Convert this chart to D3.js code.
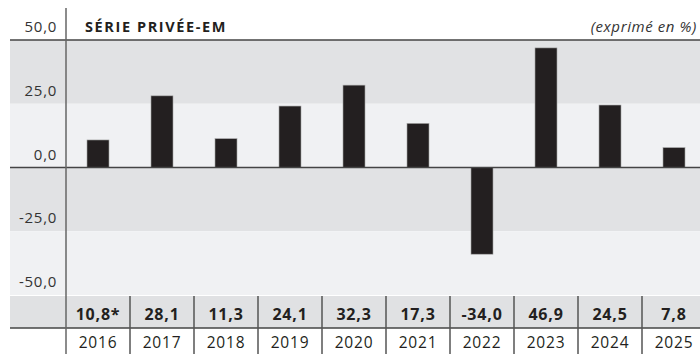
<!DOCTYPE html>
<html>
<head>
<meta charset="utf-8">
<script src="https://cdn.jsdelivr.net/npm/d3@7"></script>
<style>
  html, body { margin: 0; padding: 0; background: #fff; }
  svg { display: block; font-family: "Open Sans", "Noto Sans", sans-serif; }
</style>
</head>
<body>
<svg id="chart" width="700" height="354"></svg>
<script>
// Annual performance, private series (EM)
const years = ["2016", "2017", "2018", "2019", "2020", "2021", "2022", "2023", "2024", "2025"];
const returns = [10.8, 28.1, 11.3, 24.1, 32.3, 17.3, -34.0, 46.9, 24.5, 7.8];
const notes = ["*", "", "", "", "", "", "", "", "", ""];
const yTicks = [50, 25, 0, -25, -50];
const title = "SÉRIE PRIVÉE-EM";
const unitNote = "(exprimé en %)";

const W = 700, H = 354;
const plotLeft = 66, plotTop = 40, plotBottom = 295;
const rowTop = 296, rowMid = 328;

const svg = d3.select("#chart");
const fmt = v => d3.format(".1f")(v).replace(".", ",").replace("−", "-");

const y = d3.scaleLinear().domain([-50, 50]).range([plotBottom, plotTop]);
const x = d3.scaleBand().domain(years).range([plotLeft, plotLeft + 64 * years.length])
  .paddingInner(0.656).paddingOuter(0.328);
const gap = (x.step() - x.bandwidth()) / 2;

// alternating horizontal bands
const bands = d3.pairs(yTicks);
svg.append("g").selectAll("rect").data(bands).join("rect")
  .attr("x", 10).attr("width", W - 10)
  .attr("y", d => y(d[0]))
  .attr("height", d => y(d[1]) - y(d[0]))
  .attr("fill", (d, i) => i % 2 === 0 ? "#e1e2e4" : "#f0f1f3");

// value row background
svg.append("rect").attr("x", 10).attr("y", rowTop).attr("width", W - 10)
  .attr("height", rowMid - rowTop).attr("fill", "#e0e1e3");

// bars
svg.append("g").selectAll("rect").data(returns).join("rect")
  .attr("x", (d, i) => x(years[i]))
  .attr("width", x.bandwidth())
  .attr("y", d => y(Math.max(0, d)))
  .attr("height", d => Math.abs(y(d) - y(0)))
  .attr("fill", "#231f20")
  .attr("stroke", "#a8a8a8").attr("stroke-width", 0.6);

// top, zero and table rules
[y(50), y(0), rowMid].forEach(yy => {
  svg.append("line").attr("x1", 10).attr("x2", W).attr("y1", yy).attr("y2", yy)
    .attr("stroke", "#444").attr("stroke-width", 1.5);
});

// vertical axis line
svg.append("line").attr("x1", plotLeft).attr("x2", plotLeft).attr("y1", 8).attr("y2", H)
  .attr("stroke", "#666").attr("stroke-width", 1.5);

// table column separators
svg.append("g").selectAll("line").data(years.slice(1)).join("line")
  .attr("x1", d => x(d) - gap)
  .attr("x2", d => x(d) - gap)
  .attr("y1", rowTop).attr("y2", H)
  .attr("stroke", "#555").attr("stroke-width", 1.5);

// y tick labels
svg.append("g").selectAll("text").data(yTicks).join("text")
  .attr("x", 57).attr("y", d => y(d) - 8)
  .attr("text-anchor", "end")
  .attr("font-size", 15).attr("letter-spacing", 0.7)
  .attr("fill", "#333")
  .text(d => fmt(d));

// value labels
svg.append("g").selectAll("text").data(returns).join("text")
  .attr("x", (d, i) => x(years[i]) + x.bandwidth() / 2)
  .attr("y", 320)
  .attr("text-anchor", "middle")
  .attr("font-size", 16).attr("font-weight", "bold").attr("letter-spacing", 0.8)
  .attr("fill", "#231f20")
  .text((d, i) => fmt(d) + notes[i]);

// year labels
svg.append("g").selectAll("text").data(years).join("text")
  .attr("x", d => x(d) + x.bandwidth() / 2)
  .attr("y", 348)
  .attr("text-anchor", "middle")
  .attr("font-size", 15.5).attr("letter-spacing", 0.8)
  .attr("fill", "#231f20")
  .text(d => d);

// title and unit
svg.append("text").attr("x", 85).attr("y", 32)
  .attr("font-size", 14.5).attr("font-weight", "bold").attr("letter-spacing", 1.6)
  .attr("fill", "#231f20").text(title);
svg.append("text").attr("x", 697).attr("y", 32).attr("text-anchor", "end")
  .attr("font-size", 15).attr("font-style", "italic").attr("letter-spacing", 0.6)
  .attr("fill", "#333").text(unitNote);
</script>
</body>
</html>
